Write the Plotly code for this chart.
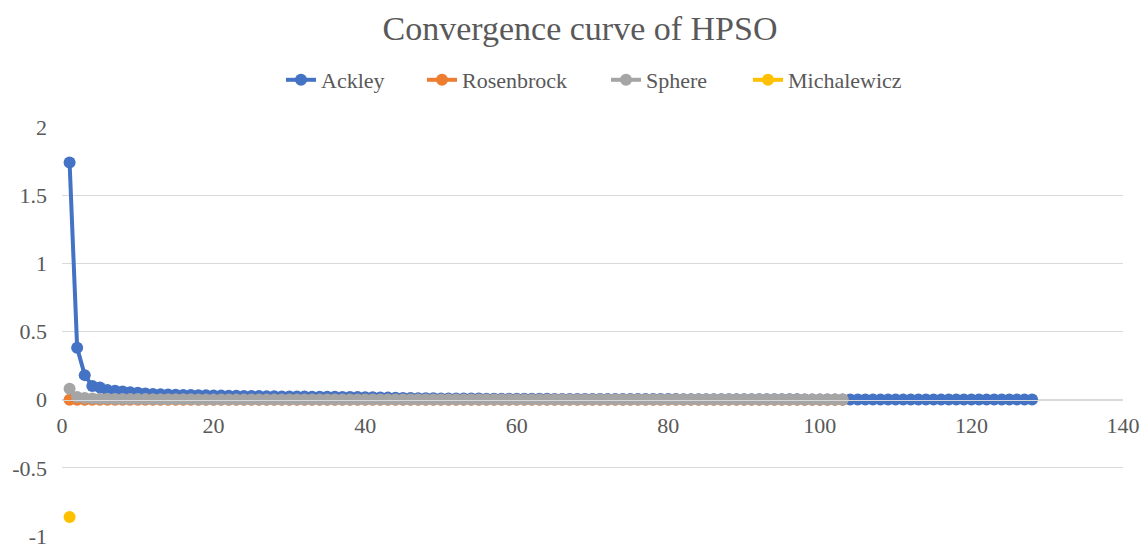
import plotly.graph_objects as go

ackley = [
    1.74, 0.38, 0.18, 0.10, 0.09, 0.07, 0.065, 0.06, 0.055, 0.05,
    0.046, 0.042, 0.04, 0.038, 0.036, 0.035, 0.034, 0.033, 0.032, 0.031,
    0.030, 0.029, 0.028, 0.027, 0.027, 0.026, 0.025, 0.025, 0.024, 0.024,
    0.023, 0.023, 0.022, 0.022, 0.021, 0.021, 0.020, 0.020, 0.019, 0.018,
    0.017, 0.016, 0.015, 0.014, 0.013, 0.012, 0.011, 0.010, 0.010, 0.009,
    0.009, 0.009, 0.008, 0.008, 0.008, 0.007, 0.007, 0.007, 0.007, 0.006,
    0.006, 0.006, 0.006, 0.006, 0.005, 0.005, 0.005, 0.005, 0.005, 0.005,
    0.005, 0.004, 0.004, 0.004, 0.004, 0.004, 0.004, 0.004, 0.004, 0.004,
    0.004, 0.003, 0.003, 0.003, 0.003, 0.003, 0.003, 0.003, 0.003, 0.003,
    0.003, 0.003, 0.003, 0.003, 0.003, 0.003, 0.003, 0.002, 0.002, 0.002,
    0.002, 0.002, 0.002, 0.002, 0.002, 0.002, 0.002, 0.002, 0.002, 0.002,
    0.002, 0.002, 0.002, 0.002, 0.002, 0.002, 0.002, 0.002, 0.002, 0.002,
    0.002, 0.002, 0.002, 0.002, 0.002, 0.002, 0.002, 0.002,
]

rosenbrock = [
    0.0, 0.0, 0.0, 0.0, 0.0, 0.0, 0.0, 0.0, 0.0, 0.0,
    0.0, 0.0, 0.0, 0.0, 0.0, 0.0, 0.0, 0.0, 0.0, 0.0,
    0.0, 0.0, 0.0, 0.0, 0.0, 0.0, 0.0, 0.0, 0.0, 0.0,
    0.0, 0.0, 0.0, 0.0, 0.0, 0.0, 0.0, 0.0, 0.0, 0.0,
    0.0, 0.0, 0.0, 0.0, 0.0, 0.0, 0.0, 0.0, 0.0, 0.0,
    0.0, 0.0, 0.0, 0.0, 0.0, 0.0, 0.0, 0.0, 0.0, 0.0,
    0.0, 0.0, 0.0, 0.0, 0.0, 0.0, 0.0, 0.0, 0.0, 0.0,
    0.0, 0.0, 0.0, 0.0, 0.0, 0.0, 0.0, 0.0, 0.0, 0.0,
    0.0, 0.0, 0.0, 0.0, 0.0, 0.0, 0.0, 0.0, 0.0, 0.0,
    0.0, 0.0, 0.0, 0.0, 0.0, 0.0, 0.0, 0.0, 0.0, 0.0,
    0.0, 0.0, 0.0,
]

sphere = [
    0.08, 0.02, 0.012, 0.009, 0.007, 0.006, 0.005, 0.005, 0.004, 0.004,
    0.004, 0.003, 0.003, 0.003, 0.003, 0.003, 0.003, 0.002, 0.002, 0.002,
    0.002, 0.002, 0.002, 0.002, 0.002, 0.002, 0.002, 0.002, 0.002, 0.002,
    0.002, 0.002, 0.002, 0.002, 0.002, 0.002, 0.002, 0.002, 0.002, 0.002,
    0.001, 0.001, 0.001, 0.001, 0.001, 0.001, 0.001, 0.001, 0.001, 0.001,
    0.001, 0.001, 0.001, 0.001, 0.001, 0.001, 0.001, 0.001, 0.001, 0.001,
    0.001, 0.001, 0.001, 0.001, 0.001, 0.001, 0.001, 0.001, 0.001, 0.001,
    0.001, 0.001, 0.001, 0.001, 0.001, 0.001, 0.001, 0.001, 0.001, 0.001,
    0.001, 0.001, 0.001, 0.001, 0.001, 0.001, 0.001, 0.001, 0.001, 0.001,
    0.001, 0.001, 0.001, 0.001, 0.001, 0.001, 0.001, 0.001, 0.001, 0.001,
    0.001, 0.001, 0.001,
]

michalewicz = [-0.86]

series_names = ["Ackley", "Rosenbrock", "Sphere", "Michalewicz"]
series_values = [ackley, rosenbrock, sphere, michalewicz]
series_colors = ["#4472C4", "#ED7D31", "#A5A5A5", "#FFC000"]

x_ticks = [0, 20, 40, 60, 80, 100, 120, 140]
y_ticks = [-1, -0.5, 0, 0.5, 1, 1.5, 2]

text_color = "#595959"
font_family = "Liberation Serif"

W, H = 1146, 550
ML, MR, MT, MB = 62, 23, 127, 14
plot_w = W - ML - MR
plot_h = H - MT - MB

# legend entry left edges (px) in the figure
legend_px = [281, 422, 606, 748]
legend_keys = ["legend", "legend2", "legend3", "legend4"]

fig = go.Figure()
for name, vals, col, lk in zip(series_names, series_values, series_colors, legend_keys):
    fig.add_trace(go.Scatter(
        x=list(range(1, len(vals) + 1)),
        y=vals,
        name=name,
        mode="lines+markers",
        line=dict(color=col, width=4),
        marker=dict(color=col, size=12),
        legend=lk,
    ))

legend_y = 1 + (MT - 80) / plot_h
legend_layout = {}
for lk, px in zip(legend_keys, legend_px):
    legend_layout[lk] = dict(
        orientation="h",
        x=(px - ML) / plot_w, xanchor="left",
        y=legend_y, yanchor="middle",
        font=dict(family=font_family, size=22, color=text_color),
        bgcolor="rgba(0,0,0,0)",
    )

fig.update_layout(
    width=W,
    height=H,
    paper_bgcolor="white",
    plot_bgcolor="white",
    margin=dict(l=ML, r=MR, t=MT, b=MB, autoexpand=False),
    title=dict(
        text="Convergence curve of HPSO",
        x=580 / W, xanchor="center",
        y=1 - 28 / H, yanchor="middle",
        font=dict(family=font_family, size=34, color=text_color),
    ),
    showlegend=True,
    xaxis=dict(
        range=[0, 140],
        tickvals=x_ticks,
        ticktext=[str(v) for v in x_ticks],
        showgrid=False,
        zeroline=False,
        showline=True,
        linecolor="#D9D9D9",
        linewidth=1,
        anchor="free",
        position=1 / 3,
        ticks="",
        automargin=False,
        ticklabelstandoff=6,
        tickfont=dict(family=font_family, size=22, color=text_color),
    ),
    yaxis=dict(
        range=[-1, 2],
        tickvals=y_ticks,
        ticktext=[f"{v:g}" for v in y_ticks],
        showgrid=True,
        gridcolor="#D9D9D9",
        gridwidth=1,
        zeroline=False,
        showline=False,
        ticks="",
        automargin=False,
        ticklabelstandoff=14,
        tickfont=dict(family=font_family, size=22, color=text_color),
    ),
    **legend_layout,
)

fig.write_html("out.html")
